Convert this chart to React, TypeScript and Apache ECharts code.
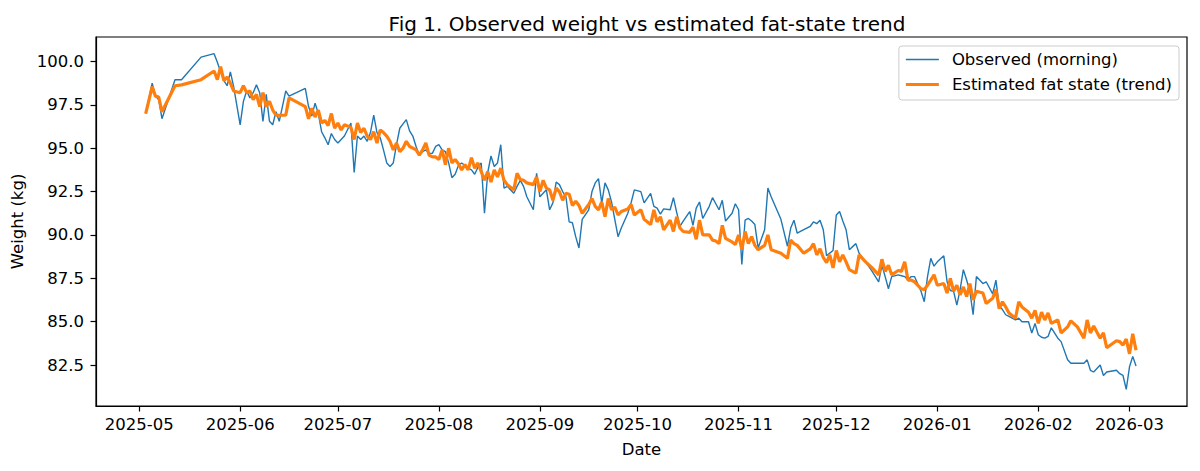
import { useEffect, useRef } from 'react'
import * as echarts from 'echarts'

const DAY_MS = 86400000
const START = Date.UTC(2025, 4, 1)

// days after 2025-05-01 on which a morning weight was logged
const days = [
  2, 4, 5, 6, 7, 11, 13, 19, 23, 24, 25, 26, 27, 28, 29, 31, 32, 33, 34, 35, 36, 37, 38, 39, 40, 41, 42, 43, 45, 46,
  51, 52, 53, 54, 55, 56, 57, 58, 59, 60, 61, 62, 63, 65, 66, 67, 68, 69, 70, 71, 72, 73, 74, 75, 76, 77, 78, 79, 80,
  81, 82, 83, 84, 85, 86, 87, 88, 89, 90, 91, 92, 93, 94, 95, 96, 97, 98, 99, 100, 101, 102, 103, 104, 105, 106, 107,
  108, 109, 110, 111, 112, 113, 115, 116, 117, 118, 119, 121, 122, 123, 124, 125, 126, 127, 128, 129, 130, 131, 132,
  133, 134, 135, 136, 138, 139, 140, 141, 142, 143, 144, 145, 146, 147, 148, 150, 151, 152, 154, 155, 157, 158, 159,
  160, 161, 163, 164, 165, 166, 167, 169, 170, 171, 172, 173, 175, 176, 177, 178, 179, 180, 182, 183, 184, 185, 186,
  187, 188, 189, 190, 192, 193, 194, 197, 199, 200, 201, 202, 204, 206, 207, 208, 209, 210, 211, 212, 213, 214, 215,
  216, 217, 218, 220, 221, 223, 225, 227, 228, 229, 230, 231, 233, 234, 235, 236, 237, 238, 240, 241, 242, 243, 244,
  245, 247, 248, 249, 250, 251, 252, 253, 254, 255, 256, 257, 259, 260, 262, 263, 264, 265, 266, 267, 269, 270, 271,
  273, 274, 275, 276, 277, 278, 279, 280, 282, 283, 285, 286, 288, 290, 291, 292, 293, 295, 296, 297, 300, 301, 302,
  303, 304, 305, 306,
]

const observed = [
  97.0, 98.75, 98.0, 97.8, 96.7, 98.95, 98.95, 100.25, 100.45, 99.95, 99.4, 98.9, 98.6, 99.4, 98.55, 96.35, 97.7, 98.3,
  97.9, 98.2, 98.65, 98.2, 96.55, 98.1, 96.55, 96.35, 97.1, 96.55, 98.3, 98.0,
  98.45, 97.4, 96.85, 97.6, 97.0, 95.95, 95.6, 95.2, 95.85, 95.5, 95.3, 95.5, 95.7, 96.45, 93.6, 95.7, 95.5, 95.7, 95.4,
  95.9, 96.9, 95.9, 95.6, 94.9, 94.15, 93.95, 94.15, 95.2, 96.15,
  96.4, 96.65, 96.0, 95.7, 95.1, 94.6, 94.8, 94.9, 94.7, 94.7, 95.1, 95.2, 94.9, 94.8, 94.15, 93.3, 93.5, 94.0, 94.15,
  94.0, 93.85, 93.75, 93.5, 93.9, 94.15, 91.25, 93.6,
  94.55, 93.95, 94.15, 95.2, 92.7, 92.8, 92.4, 92.8, 93.15, 92.8, 92.2, 91.45, 93.55, 92.2, 92.4, 92.6, 91.45, 91.85,
  93.05, 92.9, 92.5, 92.2, 90.75,
  90.7, 89.9, 89.25, 90.9, 91.45, 92.5, 93.0, 93.25, 91.85, 93.0, 92.6, 91.9, 90.9, 89.9, 90.4, 91.25, 91.85, 92.6,
  92.5, 91.85, 92.4, 91.65, 91.55,
  91.2, 91.5, 91.45, 92.15, 91.3, 90.5, 90.8, 91.35, 90.55, 91.55, 91.9, 90.95, 91.65, 92.15, 91.8, 91.45, 92.0, 90.8,
  91.25, 91.8, 91.45, 88.3, 90.85,
  90.95, 90.8, 90.6, 89.25, 90.3, 92.7, 92.2, 90.9, 89.35, 90.4, 90.85, 90.1, 90.3, 90.5, 90.75, 90.65, 90.85, 90.3,
  88.8, 88.95, 89.1, 91.15, 91.35,
  90.8, 90.3, 89.15, 89.5, 88.95, 88.45, 87.9, 87.3, 88.25, 87.6, 86.9, 87.6, 87.7, 87.65, 87.6, 87.4, 87.6, 87.6,
  86.75, 86.15, 87.6, 88.65, 88.2,
  88.45, 88.8, 87.3, 86.8, 86.75, 85.95, 86.85, 88.0, 87.4, 86.75, 85.4, 87.6, 87.2, 87.3, 86.6, 87.4, 85.9, 85.7,
  85.4, 85.3, 85.1, 85.2, 85.0,
  85.0, 84.35, 84.9, 84.25, 84.1, 84.05, 84.15, 84.65, 84.05, 83.85, 82.8, 82.6, 82.6, 82.6, 82.8, 82.2, 82.1, 82.5,
  81.9, 82.1, 82.2, 82.0, 81.9,
  81.1, 82.4, 83.0, 82.45,
]

const trend = [
  97.0, 98.55, 98.0, 97.95, 97.1, 98.6, 98.65, 98.95, 99.45, 98.95, 99.7, 98.9, 99.1, 98.75, 98.3, 98.2, 98.6, 98.2,
  98.3, 97.8, 98.1, 97.4, 98.2, 97.4, 97.7, 97.2, 96.9, 96.9, 96.9, 97.9,
  97.4, 96.7, 97.3, 96.8, 97.2, 96.45, 96.6, 96.3, 97.0, 96.15, 96.45, 96.05, 96.35, 96.2, 95.5, 96.45, 95.9, 96.15,
  95.7, 95.5, 95.95, 95.3, 96.05, 95.9, 95.7, 95.4, 94.9, 95.3, 94.8,
  95.0, 95.4, 95.1, 95.0, 94.9, 94.6, 94.9, 95.3, 94.6, 94.5, 94.5, 94.35, 94.9, 94.05, 95.0, 94.15, 94.35, 94.1,
  93.75, 94.05, 93.75, 94.45, 93.85, 94.15, 93.65, 93.15, 93.65,
  93.05, 93.75, 93.35, 93.85, 93.15, 92.9, 92.6, 93.55, 93.2, 93.15, 93.0, 92.9, 93.35, 92.5, 93.15, 92.7, 92.6, 92.0,
  92.7, 92.5, 92.0, 92.4, 92.35,
  91.7, 91.95, 91.7, 91.25, 91.75, 92.1, 91.65, 91.45, 91.9, 91.05, 92.1, 91.45, 91.6, 91.15, 91.35, 91.5, 91.75,
  91.15, 91.45, 90.9, 90.6, 91.45, 90.75,
  91.05, 90.3, 90.85, 90.2, 91.05, 90.4, 90.2, 90.15, 90.45, 89.75, 90.85, 90.0, 90.0, 89.7, 89.65, 89.5, 90.55, 89.8,
  89.6, 89.45, 90.0, 89.15, 90.2,
  89.5, 89.9, 89.4, 89.15, 89.4, 90.0, 89.15, 88.95, 88.65, 89.7, 89.5, 89.4, 88.95, 89.2, 89.5, 88.85, 89.2, 88.7,
  88.4, 88.85, 88.1, 89.1, 88.45,
  88.85, 88.45, 88.0, 87.8, 88.85, 88.45, 88.1, 87.7, 88.6, 87.9, 88.25, 87.7, 87.95, 87.9, 88.45, 87.4, 87.4, 87.3,
  86.9, 86.85, 87.1, 87.4, 87.7,
  87.1, 87.2, 86.65, 87.5, 86.75, 87.1, 86.55, 87.0, 86.45, 87.2, 86.25, 86.75, 86.65, 86.05, 86.35, 86.85, 85.75,
  86.15, 85.85, 85.5, 85.2, 86.15, 85.85,
  85.55, 85.2, 85.65, 84.9, 85.55, 85.1, 85.5, 84.9, 85.1, 84.35, 84.7, 85.05, 84.7, 84.05, 85.1, 84.35, 84.75, 84.05,
  84.35, 83.5, 83.9, 83.85, 83.65,
  84.0, 83.15, 84.3, 83.35,
]

const monthTicks = [
  '2025-05', '2025-06', '2025-07', '2025-08', '2025-09', '2025-10',
  '2025-11', '2025-12', '2026-01', '2026-02', '2026-03',
]
const weightTicks = [82.5, 85, 87.5, 90, 92.5, 95, 97.5, 100]

// axis extents (data range plus matplotlib's 5% margin)
const X_MIN = START - 13.25 * DAY_MS
const X_MAX = START + 321.65 * DAY_MS
const Y_MIN = 80.14
const Y_MAX = 101.41

const FONT = 'DejaVu Sans'
const FS = 16.5
const BLUE = '#1f77b4'
const ORANGE = '#ff7f0e'

const monthValue = (s: string) => {
  const [y, m] = s.split('-').map(Number)
  return Date.UTC(y, m - 1, 1)
}

const fmtMonth = (v: number) => {
  const d = new Date(v)
  return `${d.getUTCFullYear()}-${String(d.getUTCMonth() + 1).padStart(2, '0')}`
}

export default function App() {
  const ref = useRef<HTMLDivElement>(null)

  useEffect(() => {
    const el = ref.current
    if (!el) return
    const chart = echarts.init(el, null, { renderer: 'svg' })

    const times = days.map((d) => START + d * DAY_MS)
    const monthValues = monthTicks.map(monthValue)

    const option: echarts.EChartsOption = {
      animation: false,
      backgroundColor: '#ffffff',
      textStyle: { fontFamily: FONT },
      title: {
        text: 'Fig 1. Observed weight vs estimated fat-state trend',
        left: 642,
        top: 9,
        textAlign: 'center',
        textStyle: { fontFamily: FONT, fontSize: 20, fontWeight: 'normal', color: '#000' },
      },
      legend: {
        orient: 'vertical',
        right: 21,
        top: 46,
        itemWidth: 33,
        itemHeight: 14,
        itemGap: 8,
        padding: [5, 7, 7, 7],
        borderColor: '#cccccc',
        borderWidth: 1,
        borderRadius: 3,
        backgroundColor: 'rgba(255,255,255,0.8)',
        textStyle: { fontFamily: FONT, fontSize: FS, color: '#000', padding: [0, 0, 0, 8] },
        data: [
          { name: 'Observed (morning)', icon: 'path://M0,0H33V1.5H0Z' },
          { name: 'Estimated fat state (trend)', icon: 'path://M0,0H33V3.2H0Z' },
        ],
      },
      grid: {
        left: 96,
        right: 13,
        top: 37,
        bottom: 65,
        show: true,
        borderColor: '#000',
        borderWidth: 1.2,
        backgroundColor: 'transparent',
      },
      xAxis: {
        type: 'value',
        min: X_MIN,
        max: X_MAX,
        name: 'Date',
        nameLocation: 'middle',
        nameGap: 35,
        nameTextStyle: { fontFamily: FONT, fontSize: FS, color: '#000' },
        axisLine: { show: true, lineStyle: { color: '#000', width: 1.2 } },
        axisTick: { show: true, length: 5.5, lineStyle: { color: '#000', width: 1.2 }, customValues: monthValues },
        axisLabel: {
          fontFamily: FONT,
          fontSize: FS,
          color: '#000',
          margin: 10,
          customValues: monthValues,
          formatter: (v: number) => fmtMonth(v),
        },
        splitLine: { show: false },
      },
      yAxis: {
        type: 'value',
        min: Y_MIN,
        max: Y_MAX,
        name: 'Weight (kg)',
        nameLocation: 'middle',
        nameGap: 67,
        nameTextStyle: { fontFamily: FONT, fontSize: FS, color: '#000' },
        axisLine: { show: true, lineStyle: { color: '#000', width: 1.2 } },
        axisTick: { show: true, length: 5.5, lineStyle: { color: '#000', width: 1.2 }, customValues: weightTicks },
        axisLabel: {
          fontFamily: FONT,
          fontSize: FS,
          color: '#000',
          margin: 12,
          customValues: weightTicks,
          formatter: (v: number) => v.toFixed(1),
        },
        splitLine: { show: false },
      },
      series: [
        {
          name: 'Observed (morning)',
          type: 'line',
          data: times.map((t, i) => [t, observed[i]]),
          symbol: 'none',
          showSymbol: false,
          lineStyle: { color: BLUE, width: 1.4 },
          itemStyle: { color: BLUE },
          z: 2,
        },
        {
          name: 'Estimated fat state (trend)',
          type: 'line',
          data: times.map((t, i) => [t, trend[i]]),
          symbol: 'none',
          showSymbol: false,
          lineStyle: { color: ORANGE, width: 3.2 },
          itemStyle: { color: ORANGE },
          z: 3,
        },
      ],
    }

    chart.setOption(option)
    return () => {
      chart.dispose()
    }
  }, [])

  return (
    <div
      ref={ref}
      style={{ position: 'absolute', left: 0, top: 0, width: 1200, height: 471, background: '#fff' }}
    />
  )
}
